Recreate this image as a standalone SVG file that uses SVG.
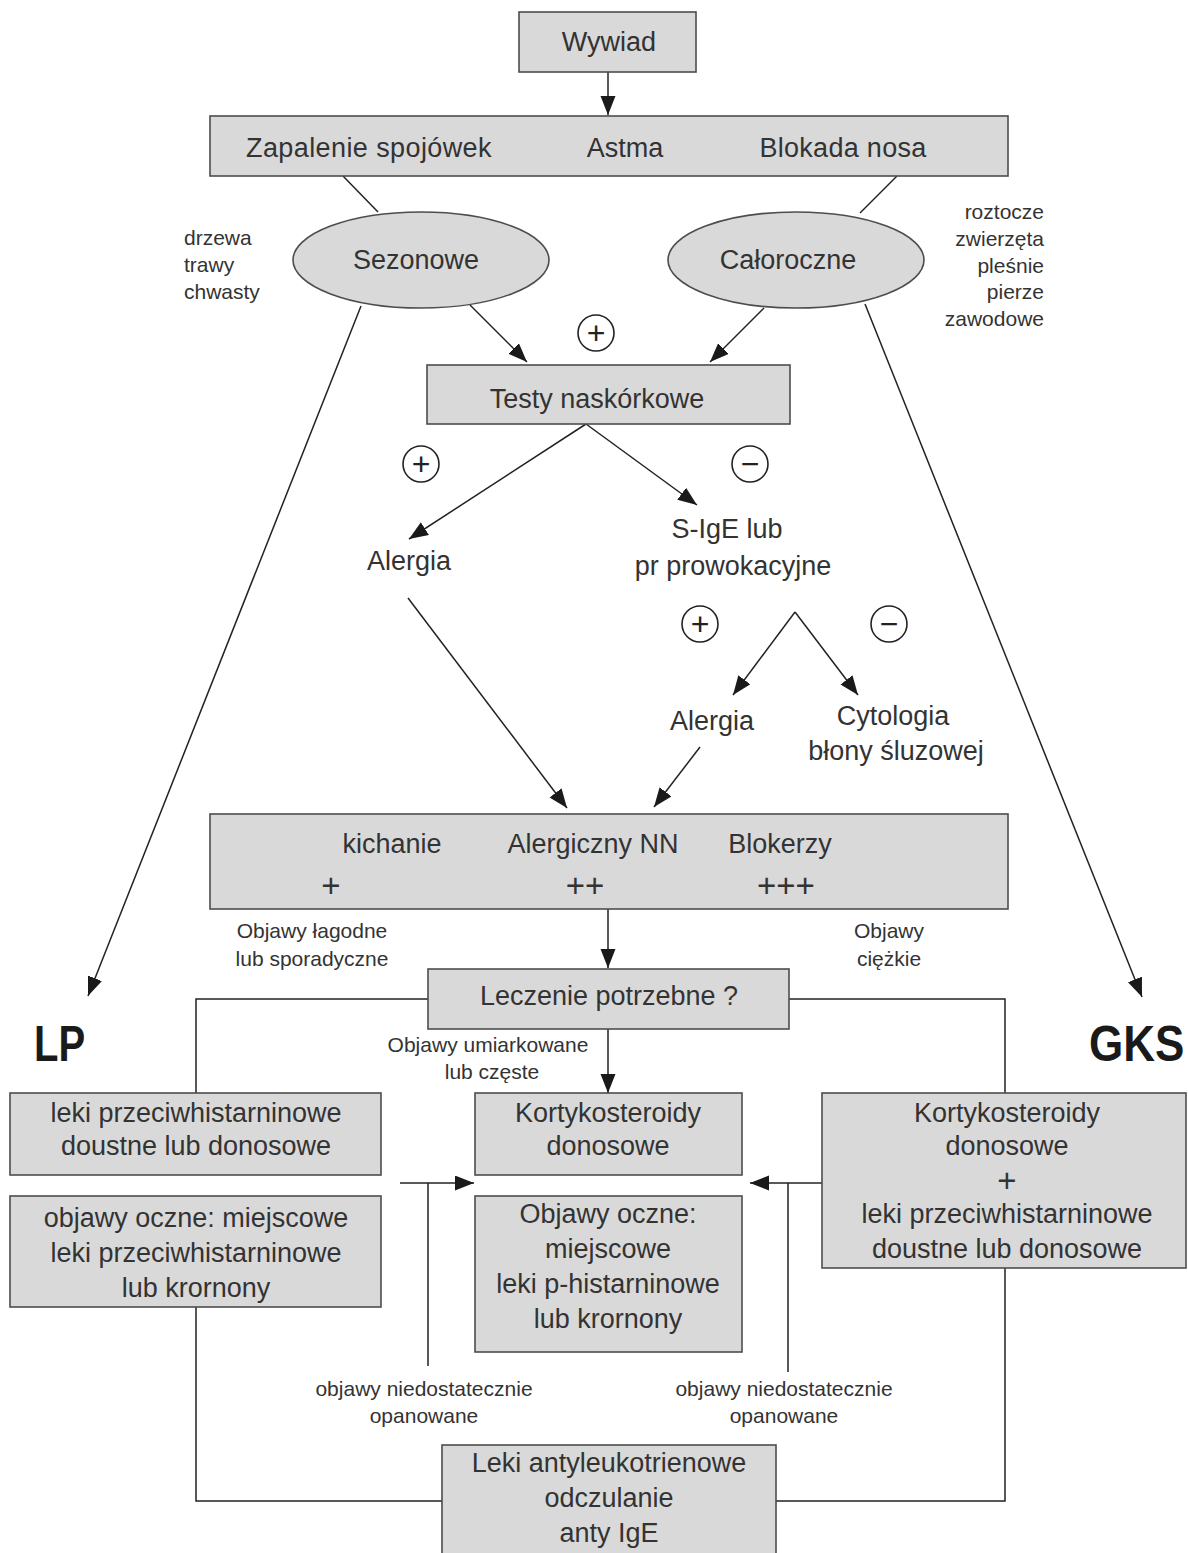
<svg xmlns="http://www.w3.org/2000/svg" width="1188" height="1553" viewBox="0 0 1188 1553">
<defs>
<style>
.box{fill:#d9d9d9;stroke:#4d4d4d;stroke-width:1.6}
.t{font-family:"Liberation Sans",Arial,sans-serif;font-size:27px;fill:#333;text-anchor:middle}
.s{font-size:21px}
.l{text-anchor:start}
.r{text-anchor:end}
.b{font-weight:bold;fill:#1a1a1a;text-anchor:start;font-size:44px}
.p{font-size:33px}
.sgt{font-size:32px;fill:#222}
.c{stroke:#222;stroke-width:1.5;fill:none}
.ca{stroke:#222;stroke-width:1.5;fill:none;marker-end:url(#ah)}
.sg{fill:#fff;stroke:#222;stroke-width:1.6}
</style>
<marker id="ah" markerUnits="userSpaceOnUse" markerWidth="20" markerHeight="16" refX="19" refY="7.5" orient="auto">
<path d="M0,0 L19,7.5 L0,15 z" fill="#1a1a1a"/>
</marker>
</defs>
<rect width="1188" height="1553" fill="#fff"/>

<g id="connectors">
<line class="ca" x1="608" y1="72" x2="608" y2="115"/>
<line class="c" x1="343" y1="176" x2="378" y2="212"/>
<line class="c" x1="897" y1="176" x2="860" y2="213"/>
<line class="ca" x1="470" y1="305" x2="527" y2="362"/>
<line class="ca" x1="764" y1="308" x2="710" y2="362"/>
<line class="ca" x1="361" y1="306" x2="88" y2="996"/>
<line class="ca" x1="865" y1="304" x2="1142" y2="997"/>
<line class="ca" x1="586" y1="424" x2="409" y2="539"/>
<line class="ca" x1="586" y1="424" x2="697" y2="505"/>
<line class="ca" x1="408" y1="598" x2="567" y2="808"/>
<line class="ca" x1="795" y1="612" x2="733" y2="695"/>
<line class="ca" x1="795" y1="612" x2="858" y2="695"/>
<line class="ca" x1="700" y1="747" x2="654" y2="807"/>
<line class="ca" x1="608" y1="909" x2="608" y2="968"/>
<path class="c" d="M428,999 H196 V1093"/>
<path class="c" d="M789,999 H1005 V1093"/>
<line class="ca" x1="608" y1="1029" x2="608" y2="1093"/>
<line class="ca" x1="400" y1="1183" x2="474" y2="1183"/>
<line class="c" x1="428" y1="1183" x2="428" y2="1366"/>
<line class="ca" x1="822" y1="1183" x2="750" y2="1183"/>
<line class="c" x1="788" y1="1183" x2="788" y2="1372"/>
<path class="c" d="M196,1307 V1501 H442"/>
<path class="c" d="M1005,1268 V1501 H776"/>
</g>

<g id="wywiad"><rect class="box" x="519" y="12" width="177" height="60"/><text class="t" x="609" y="51">Wywiad</text></g>

<g id="objawy"><rect class="box" x="210" y="116" width="798" height="60"/>
<text class="t" x="369" y="157" letter-spacing="0.4">Zapalenie spojówek</text>
<text class="t" x="625" y="157">Astma</text>
<text class="t" x="843" y="157" letter-spacing="0.3">Blokada nosa</text></g>

<g id="sezonowe"><ellipse class="box" cx="421" cy="260" rx="128" ry="48"/><text class="t" x="416" y="269">Sezonowe</text></g>
<g id="caloroczne"><ellipse class="box" cx="796" cy="260" rx="128" ry="48"/><text class="t" x="788" y="269">Całoroczne</text></g>

<g id="sezonowe-lista">
<text class="t s l" x="184" y="245">drzewa</text>
<text class="t s l" x="184" y="272">trawy</text>
<text class="t s l" x="184" y="299">chwasty</text></g>
<g id="caloroczne-lista">
<text class="t s r" x="1044" y="219">roztocze</text>
<text class="t s r" x="1044" y="246">zwierzęta</text>
<text class="t s r" x="1044" y="273">pleśnie</text>
<text class="t s r" x="1044" y="299">pierze</text>
<text class="t s r" x="1044" y="326">zawodowe</text></g>

<g id="signs">
<circle class="sg" cx="596" cy="333" r="18"/><text class="t sgt" x="596" y="344">+</text>
<circle class="sg" cx="421" cy="464" r="18"/><text class="t sgt" x="421" y="475">+</text>
<circle class="sg" cx="750" cy="464" r="18"/><text class="t sgt" x="750" y="475">−</text>
<circle class="sg" cx="700" cy="624" r="18"/><text class="t sgt" x="700" y="635">+</text>
<circle class="sg" cx="889" cy="624" r="18"/><text class="t sgt" x="889" y="635">−</text>
</g>

<g id="testy"><rect class="box" x="427" y="365" width="363" height="59"/><text class="t" x="597" y="408">Testy naskórkowe</text></g>

<g id="alergia1"><text class="t" x="409" y="570">Alergia</text></g>
<g id="sige"><text class="t" x="727" y="538">S-IgE lub</text><text class="t" x="733" y="575">pr prowokacyjne</text></g>
<g id="alergia2"><text class="t" x="712" y="730">Alergia</text></g>
<g id="cytologia"><text class="t" x="893" y="725">Cytologia</text><text class="t" x="896" y="760">błony śluzowej</text></g>

<g id="nn"><rect class="box" x="210" y="814" width="798" height="95"/>
<text class="t" x="392" y="853">kichanie</text>
<text class="t" x="593" y="853">Alergiczny NN</text>
<text class="t" x="780" y="853">Blokerzy</text>
<text class="t p" x="331" y="897">+</text>
<text class="t p" x="585" y="897">++</text>
<text class="t p" x="786" y="897">+++</text></g>

<g id="lab-lagodne"><text class="t s" x="312" y="938">Objawy łagodne</text><text class="t s" x="312" y="966">lub sporadyczne</text></g>
<g id="lab-ciezkie"><text class="t s" x="889" y="938">Objawy</text><text class="t s" x="889" y="966">ciężkie</text></g>

<g id="leczenie"><rect class="box" x="428" y="969" width="361" height="60"/><text class="t" x="609" y="1005">Leczenie potrzebne ?</text></g>

<g id="lab-umiark"><text class="t s" x="488" y="1052">Objawy umiarkowane</text><text class="t s" x="492" y="1079">lub częste</text></g>

<g id="lp"><text class="t b" transform="translate(34,1061) scale(0.91,1.14)" x="0" y="0">LP</text></g>
<g id="gks"><text class="t b" transform="translate(1089,1061) scale(1,1.14)" x="0" y="0">GKS</text></g>

<g id="leki-lp"><rect class="box" x="10" y="1093" width="371" height="82"/>
<text class="t" x="196" y="1122">leki przeciwhistarninowe</text>
<text class="t" x="196" y="1155">doustne lub donosowe</text></g>

<g id="korty"><rect class="box" x="475" y="1093" width="267" height="82"/>
<text class="t" x="608" y="1122">Kortykosteroidy</text>
<text class="t" x="608" y="1155">donosowe</text></g>

<g id="korty-gks"><rect class="box" x="822" y="1093" width="364" height="175"/>
<text class="t" x="1007" y="1122">Kortykosteroidy</text>
<text class="t" x="1007" y="1155">donosowe</text>
<text class="t p" x="1007" y="1192">+</text>
<text class="t" x="1007" y="1223">leki przeciwhistarninowe</text>
<text class="t" x="1007" y="1258">doustne lub donosowe</text></g>

<g id="oczne-lp"><rect class="box" x="10" y="1196" width="371" height="111"/>
<text class="t" x="196" y="1227">objawy oczne: miejscowe</text>
<text class="t" x="196" y="1262">leki przeciwhistarninowe</text>
<text class="t" x="196" y="1297">lub krornony</text></g>

<g id="oczne"><rect class="box" x="475" y="1196" width="267" height="156"/>
<text class="t" x="608" y="1223">Objawy oczne:</text>
<text class="t" x="608" y="1258">miejscowe</text>
<text class="t" x="608" y="1293">leki p-histarninowe</text>
<text class="t" x="608" y="1328">lub krornony</text></g>

<g id="lab-niedost1"><text class="t s" x="424" y="1396">objawy niedostatecznie</text><text class="t s" x="424" y="1423">opanowane</text></g>
<g id="lab-niedost2"><text class="t s" x="784" y="1396">objawy niedostatecznie</text><text class="t s" x="784" y="1423">opanowane</text></g>

<g id="antyleuko"><rect class="box" x="442" y="1445" width="334" height="120"/>
<text class="t" x="609" y="1472">Leki antyleukotrienowe</text>
<text class="t" x="609" y="1507">odczulanie</text>
<text class="t" x="609" y="1542">anty IgE</text></g>
</svg>
